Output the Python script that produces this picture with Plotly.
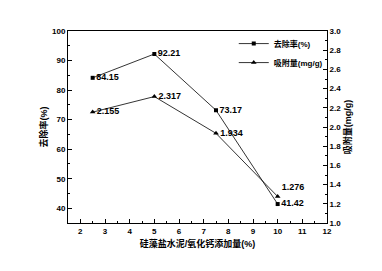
import plotly.graph_objects as go

x_vals = [2.5, 5, 7.5, 10]
removal = [84.15, 92.21, 73.17, 41.42]
adsorption = [2.155, 2.317, 1.934, 1.276]
removal_labels = ["84.15", "92.21", "73.17", "41.42"]
adsorption_labels = ["2.155", "2.317", "1.934", "1.276"]

font_family = "Liberation Sans, Arial, Noto Sans CJK SC"
fig = go.Figure()
fig.add_trace(go.Scatter(
    x=x_vals, y=removal, mode="lines+markers+text", name="去除率(%)",
    text=removal_labels, textposition=["middle right", "middle right", "middle right", "middle right"],
    textfont=dict(size=9, color="black", family=font_family, weight="bold"),
    line=dict(color="black", width=0.8),
    marker=dict(symbol="square", size=4, color="black"),
))
fig.add_trace(go.Scatter(
    x=x_vals, y=adsorption, mode="lines+markers+text", name="吸附量(mg/g)",
    text=adsorption_labels, textposition=["middle right", "middle right", "middle right", "top right"],
    textfont=dict(size=9, color="black", family=font_family, weight="bold"),
    line=dict(color="black", width=0.8),
    marker=dict(symbol="triangle-up", size=5, color="black"),
    yaxis="y2",
))

axis_common = dict(
    showline=True, linecolor="black", linewidth=1, ticks="inside",
    ticklen=4, tickcolor="black", showgrid=False, zeroline=False,
    tickfont=dict(size=8, color="black", family=font_family, weight="bold"),
)
fig.update_layout(
    width=382, height=271,
    margin=dict(l=68, r=55, t=31, b=48),
    plot_bgcolor="white", paper_bgcolor="white",
    font=dict(family=font_family, color="black"),
    showlegend=True,
    legend=dict(x=0.64, y=1.01, xanchor="left", yanchor="top",
                font=dict(size=8, color="black", weight="bold"), bgcolor="rgba(0,0,0,0)",
                tracegroupgap=0, itemwidth=30),
    xaxis=dict(range=[1.5, 12], dtick=1, mirror=True,
               minor=dict(ticks="inside", ticklen=2, dtick=0.5, tickcolor="black"),
               title=dict(text="硅藻盐水泥/氧化钙添加量(%)", font=dict(size=9, weight="bold"), standoff=6),
               **axis_common),
    yaxis=dict(range=[35, 100], tickvals=[40, 50, 60, 70, 80, 90, 100],
               minor=dict(ticks="inside", ticklen=2, tickvals=[45, 55, 65, 75, 85, 95], tickcolor="black"),
               title=dict(text="去除率(%)", font=dict(size=9, weight="bold"), standoff=2),
               **axis_common),
    yaxis2=dict(range=[1.0, 3.0], dtick=0.2, tickformat=".1f", overlaying="y", side="right",
                minor=dict(ticks="inside", ticklen=2, dtick=0.1, tickcolor="black"),
                title=dict(text="吸附量(mg/g)", font=dict(size=9, weight="bold"), standoff=4),
                **axis_common),
)
fig.write_html("out.html")
